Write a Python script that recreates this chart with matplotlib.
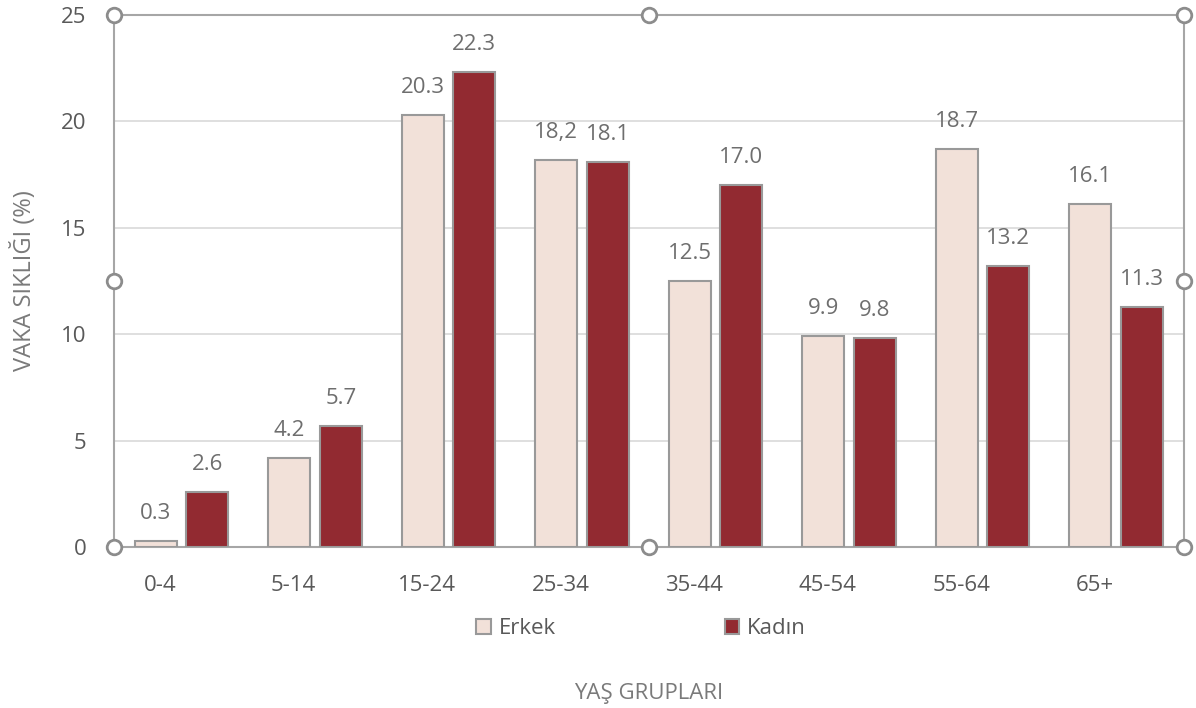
import numpy as np
import matplotlib.pyplot as plt

plt.rcParams['font.family'] = ['Open Sans', 'DejaVu Sans']

groups = ['0-4', '5-14', '15-24', '25-34', '35-44', '45-54', '55-64', '65+']
erkek = [0.3, 4.2, 20.3, 18.2, 12.5, 9.9, 18.7, 16.1]
kadin = [2.6, 5.7, 22.3, 18.1, 17.0, 9.8, 13.2, 11.3]
erkek_labels = ['0.3', '4.2', '20.3', '18,2', '12.5', '9.9', '18.7', '16.1']
kadin_labels = ['2.6', '5.7', '22.3', '18.1', '17.0', '9.8', '13.2', '11.3']

c_erkek = '#f2e1d9'
c_kadin = '#922a31'
edge = '#999999'
txt = '#6e6e6e'

fig = plt.figure(figsize=(11.96, 7.08), dpi=100)
ax = fig.add_axes([0.0953, 0.2274, 0.8947, 0.7514])

x = np.arange(len(groups))
w = 0.315
off = 0.193
b1 = ax.bar(x - off, erkek, w, color=c_erkek, edgecolor=edge, linewidth=1.5, label='Erkek', zorder=3)
b2 = ax.bar(x + off, kadin, w, color=c_kadin, edgecolor=edge, linewidth=1.5, label='Kadın', zorder=3)

for xi, v, s in zip(x - off, erkek, erkek_labels):
    ax.text(xi, v + 0.8, s, ha='center', va='bottom', fontsize=16, color=txt)
for xi, v, s in zip(x + off, kadin, kadin_labels):
    ax.text(xi, v + 0.8, s, ha='center', va='bottom', fontsize=16, color=txt)

ax.set_xlim(-0.506, 7.51)
ax.set_ylim(0, 25)
ax.set_yticks([0, 5, 10, 15, 20, 25])
ax.set_xticks(x - 0.16)
ax.set_xticklabels(groups)
ax.tick_params(length=0, labelsize=16, labelcolor='#595959', pad=20)
ax.tick_params(axis='y', pad=20)
ax.yaxis.grid(True, color='#d9d9d9', linewidth=1.2, zorder=0)
ax.set_axisbelow(True)

for sp in ax.spines.values():
    sp.set_color('#a6a6a6')
    sp.set_linewidth(1.5)

ax.set_ylabel('VAKA SIKLIĞI (%)', fontsize=17, color='#7a7a7a', labelpad=17)
ax.set_xlabel('YAŞ GRUPLARI', fontsize=16, color='#7a7a7a', labelpad=63)

# selection handles around the plot area
hx = [0, 0.5, 1, 0, 1, 0, 0.5, 1]
hy = [1, 1, 1, 0.5, 0.5, 0, 0, 0]
ax.scatter(hx, hy, s=110, facecolor='white', edgecolor='#8c8c8c', linewidth=2,
           transform=ax.transAxes, clip_on=False, zorder=10)

leg = fig.legend(handles=[b1, b2], loc='center', bbox_to_anchor=(0.536, 0.112), ncol=2,
                 frameon=False, fontsize=16, columnspacing=7.6, handlelength=0.65,
                 handleheight=0.65, handletextpad=0.35)
for t in leg.get_texts():
    t.set_color('#595959')

fig.savefig('out.png', dpi=100)
